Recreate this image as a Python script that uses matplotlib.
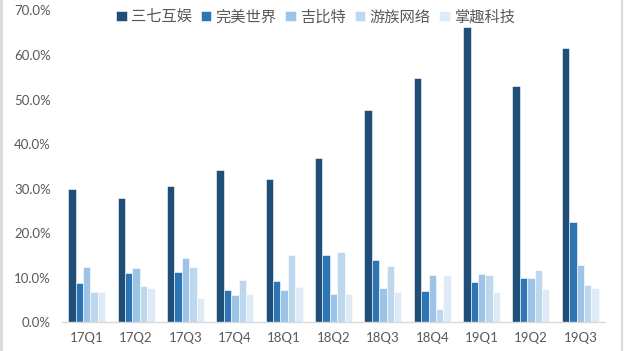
import matplotlib.pyplot as plt
import numpy as np
from matplotlib.lines import Line2D

# 数据
quarters = ['17Q1', '17Q2', '17Q3', '17Q4', '18Q1', '18Q2', '18Q3', '18Q4', '19Q1', '19Q2', '19Q3']
companies = ['三七互娱', '完美世界', '吉比特', '游族网络', '掌趣科技']
s37 = [30.0, 28.0, 30.6, 34.3, 32.3, 37.0, 47.6, 54.8, 66.2, 53.0, 61.5]
wanmei = [8.9, 11.1, 11.3, 7.3, 9.3, 15.1, 14.0, 7.1, 9.1, 10.0, 22.5]
jibite = [12.4, 12.2, 14.5, 6.2, 7.3, 6.4, 7.7, 10.7, 10.9, 10.0, 12.9]
youzu = [6.8, 8.2, 12.4, 9.5, 15.1, 15.8, 12.7, 3.0, 10.7, 11.8, 8.4]
zhangqu = [6.8, 7.7, 5.5, 6.4, 8.0, 6.4, 6.8, 10.7, 6.8, 7.5, 7.7]
series = [s37, wanmei, jibite, youzu, zhangqu]
colors = ['#1F4E79', '#2E75B6', '#9DC3E6', '#BDD7EE', '#DEEBF7']

plt.rcParams['font.family'] = ['Lato', 'Noto Sans CJK SC', 'DejaVu Sans']

fig = plt.figure(figsize=(6.24, 3.51), dpi=100)
ax = fig.add_axes([0.0994, 0.0812, 0.8702, 0.889])

x = np.arange(len(quarters))
w = 0.15
for i, (vals, c) in enumerate(zip(series, colors)):
    ax.bar(x + (i - 2) * w, vals, width=w, color=c, edgecolor='white',
           linewidth=0.4, label=companies[i])

ax.set_xlim(-0.5, len(quarters) - 0.5)
ax.set_ylim(0, 70)
ax.set_yticks(np.arange(0, 71, 10))
ax.set_yticklabels([f'{v:.1f}%' for v in range(0, 71, 10)])
ax.set_xticks(x)
ax.set_xticklabels(quarters)

for s in ['top', 'right', 'left']:
    ax.spines[s].set_visible(False)
ax.spines['bottom'].set_color('#D9D9D9')
ax.spines['bottom'].set_linewidth(1)
ax.tick_params(axis='both', length=0, colors='#595959', labelsize=9.5)
ax.tick_params(axis='x', pad=7)
ax.tick_params(axis='y', pad=8)

leg = fig.legend(loc='center', bbox_to_anchor=(0.506, 0.952), ncol=5, frameon=False,
                 handlelength=0.7, handleheight=0.7, handletextpad=0.3,
                 columnspacing=0.55, prop={'family': ['Noto Sans CJK SC'], 'size': 11})
for t in leg.get_texts():
    t.set_color('#595959')

# 边框
fig.add_artist(Line2D([0.002, 0.002], [0, 1], color='#D9D9D9', lw=2, transform=fig.transFigure))
fig.add_artist(Line2D([0.997, 0.997], [0, 1], color='#D9D9D9', lw=1.5, transform=fig.transFigure))

fig.savefig('out.png', dpi=100)
